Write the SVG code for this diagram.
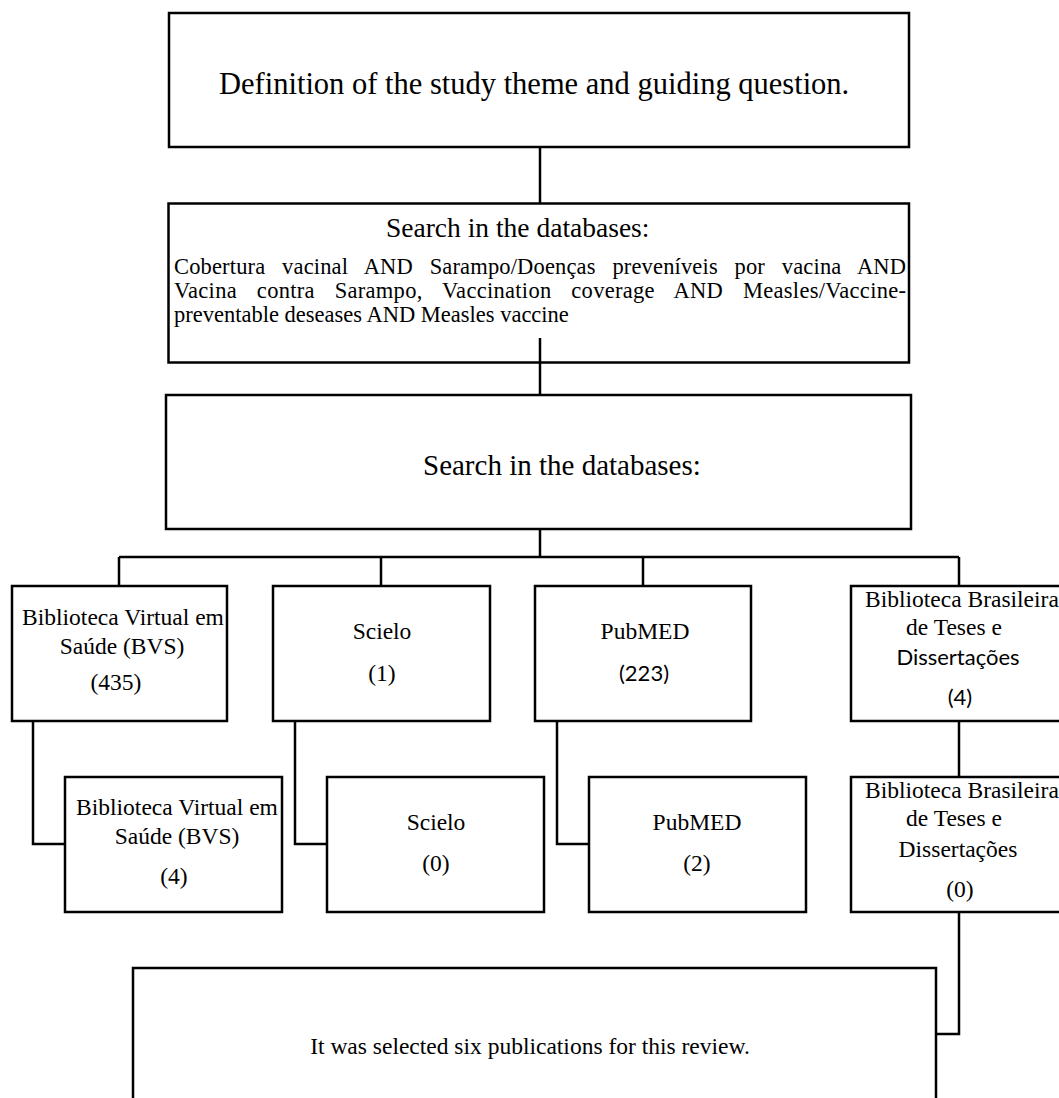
<svg xmlns="http://www.w3.org/2000/svg" width="1059" height="1098" viewBox="0 0 1059 1098">
<style>
.box{fill:#fff;stroke:#000;stroke-width:2.5}
.ln{fill:none;stroke:#000;stroke-width:2.5}
text{font-family:"Liberation Serif","Times New Roman",serif;fill:#000}
.m{text-anchor:middle;font-size:23.5px}
.c{font-family:Lato,"Open Sans",sans-serif;font-size:22px}
</style>
<rect width="1059" height="1098" fill="#fff"/>
<g id="n-definition">
<rect class="box" x="169" y="13" width="740" height="134"/>
<text x="219" y="94" font-size="30.5">Definition of the study theme and guiding question.</text>
</g>
<g id="n-search1">
<rect class="box" x="168.5" y="203.5" width="740.5" height="159"/>
<text x="386" y="237" font-size="27.5">Search in the databases:</text>
<text x="174" y="274" font-size="22.5" word-spacing="11" textLength="732">Cobertura vacinal AND Sarampo/Doenças preveníveis por vacina AND</text>
<text x="174" y="298" font-size="22.5" word-spacing="14" textLength="732">Vacina contra Sarampo, Vaccination coverage AND Measles/Vaccine-</text>
<text x="174" y="322" font-size="22.5">preventable deseases AND Measles vaccine</text>
</g>
<g id="n-search2">
<rect class="box" x="166" y="395" width="745" height="134"/>
<text x="423" y="475" font-size="29">Search in the databases:</text>
</g>
<g id="n-bvs1">
<rect class="box" x="12" y="586" width="215" height="135"/>
<text class="m" x="123" y="625">Biblioteca Virtual em</text>
<text class="m" x="122" y="654">Saúde (BVS)</text>
<text class="m" x="116" y="690">(435)</text>
</g>
<g id="n-scielo1">
<rect class="box" x="273" y="586" width="217" height="135"/>
<text class="m" x="382" y="639">Scielo</text>
<text class="m" x="382" y="681">(1)</text>
</g>
<g id="n-pubmed1">
<rect class="box" x="535" y="586" width="216" height="135"/>
<text class="m" x="645" y="639">PubMED</text>
<text class="m c" x="644" y="681">(223)</text>
</g>
<g id="n-bbtd1">
<rect class="box" x="851" y="586" width="216" height="135"/>
<text x="865" y="607" font-size="23.5">Biblioteca Brasileira</text>
<text class="m" x="954" y="635">de Teses e</text>
<text class="m c" x="958" y="665">Dissertações</text>
<text class="m c" x="960" y="705">(4)</text>
</g>
<g id="n-bvs2">
<rect class="box" x="65" y="777" width="217" height="135"/>
<text class="m" x="177" y="815">Biblioteca Virtual em</text>
<text class="m" x="177" y="844">Saúde (BVS)</text>
<text class="m" x="174" y="884">(4)</text>
</g>
<g id="n-scielo2">
<rect class="box" x="327" y="777" width="217" height="135"/>
<text class="m" x="436" y="830">Scielo</text>
<text class="m" x="436" y="871">(0)</text>
</g>
<g id="n-pubmed2">
<rect class="box" x="589" y="777" width="217" height="135"/>
<text class="m" x="697" y="830">PubMED</text>
<text class="m" x="697" y="871">(2)</text>
</g>
<g id="n-bbtd2">
<rect class="box" x="851" y="777" width="216" height="135"/>
<text x="865" y="798" font-size="23.5">Biblioteca Brasileira</text>
<text class="m" x="954" y="826">de Teses e</text>
<text class="m" x="958" y="857">Dissertações</text>
<text class="m" x="960" y="897">(0)</text>
</g>
<g id="n-final">
<rect class="box" x="133" y="968" width="803" height="200"/>
<text class="m" x="530" y="1054" font-size="23">It was selected six publications for this review.</text>
</g>
<g id="connectors">
<path class="ln" d="M540 147V203.5"/>
<path class="ln" d="M540 338V395"/>
<path class="ln" d="M540 529V557"/>
<path class="ln" d="M119 557H959"/>
<path class="ln" d="M119 557V586M381 557V586M643 557V586M959 557V586"/>
<path class="ln" d="M33 721V844H65"/>
<path class="ln" d="M295 721V844H327"/>
<path class="ln" d="M557 721V844H589"/>
<path class="ln" d="M959 721V777"/>
<path class="ln" d="M959 912V1034H936"/>
</g>
</svg>
